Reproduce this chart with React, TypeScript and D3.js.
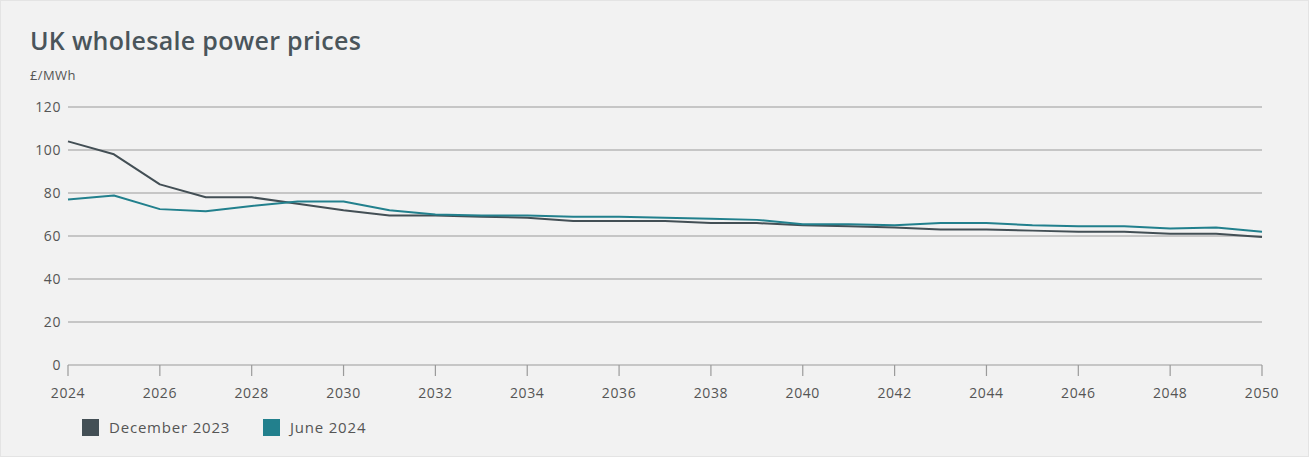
import React from "react";
import * as d3 from "d3";

const years = d3.range(2024, 2051);
const december2023 = [104, 98, 84, 78, 78, 75, 72, 69.5, 69.5, 69, 68.5, 67, 67, 67, 66, 66, 65, 64.5, 64, 63, 63, 62.5, 62, 62, 61, 61, 59.5];
const june2024 = [77, 78.8, 72.5, 71.5, 74, 76, 76, 72, 70, 69.5, 69.5, 69, 69, 68.5, 68, 67.5, 65.5, 65.5, 65, 66, 66, 65, 64.5, 64.5, 63.5, 64, 62];
const yTicks = [0, 20, 40, 60, 80, 100, 120];
const xTicks = d3.range(2024, 2051, 2);
const seriesNames = ["December 2023", "June 2024"];
const seriesColors = ["#434f55", "#22808d"];

const W = 1309, H = 457;
const FONT = "'Open Sans', 'Noto Sans', sans-serif";

export default function App() {
  const x = d3.scaleLinear().domain([2024, 2050]).range([68, 1262]);
  const y = d3.scaleLinear().domain([0, 120]).range([365, 107]);
  const line = d3.line<number>().x((_, i) => x(years[i])).y((d) => y(d));
  const series = [december2023, june2024];
  return (
    <svg width={W} height={H} style={{ position: "absolute", left: 0, top: 0, display: "block" }}>
      <rect x={0} y={0} width={W} height={H} fill="#f2f2f2" />
      <rect x={0.5} y={0.5} width={W - 1} height={H - 1} fill="none" stroke="#e4e4e4" />
      <text x={30} y={50} fontFamily={FONT} fontSize={25} fontWeight={600} letterSpacing={0.3} fill="#4a555b">UK wholesale power prices</text>
      <text x={30} y={80} fontFamily={FONT} fontSize={13} letterSpacing={0.4} fill="#555">£/MWh</text>
      {yTicks.map((t) => (
        <g key={t}>
          {t > 0 && <line x1={68} x2={1262} y1={y(t)} y2={y(t)} stroke="#9a9a9a" strokeWidth={1} />}
          <text x={61} y={y(t)} dy="0.35em" textAnchor="end" fontFamily={FONT} fontSize={14} letterSpacing={0.6} fill="#555">{t}</text>
        </g>
      ))}
      <line x1={68} x2={1262} y1={y(0)} y2={y(0)} stroke="#9a9a9a" strokeWidth={1.2} />
      {xTicks.map((t) => (
        <g key={t}>
          <line x1={x(t)} x2={x(t)} y1={y(0)} y2={y(0) + 11} stroke="#9a9a9a" strokeWidth={1.2} />
          <text x={x(t)} y={398} textAnchor="middle" fontFamily={FONT} fontSize={14} letterSpacing={0.6} fill="#555">{t}</text>
        </g>
      ))}
      {series.map((s, i) => (
        <path key={i} d={line(s) || ""} fill="none" stroke={seriesColors[i]} strokeWidth={2} strokeLinejoin="round" />
      ))}
      {seriesNames.map((n, i) => {
        const lx = i === 0 ? 82 : 263;
        return (
          <g key={n}>
            <rect x={lx} y={419} width={17} height={17} fill={seriesColors[i]} />
            <text x={lx + 27} y={433} fontFamily={FONT} fontSize={15} letterSpacing={0.8} fill="#555">{n}</text>
          </g>
        );
      })}
    </svg>
  );
}
